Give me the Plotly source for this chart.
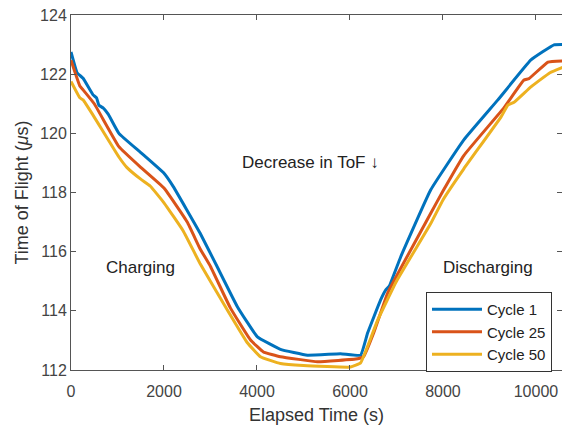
import plotly.graph_objects as go

x_c1 = [0, 130, 260, 474, 550, 600, 690, 800, 1030, 1500, 2000, 2200, 2775, 3147, 3578, 4009, 4504, 5086, 5797, 6228, 6379, 6659, 6767, 6850, 7090, 7737, 8448, 9181, 9892, 10388, 10600]
y_c1 = [122.75, 122.05, 121.86, 121.3, 121.2, 120.95, 120.86, 120.65, 120.0, 119.35, 118.65, 118.2, 116.63, 115.48, 114.14, 113.12, 112.7, 112.5, 112.55, 112.5, 113.25, 114.37, 114.7, 114.85, 115.82, 118.09, 119.78, 121.13, 122.48, 122.99, 123.0]

x_c25 = [0, 190, 260, 500, 1030, 1500, 2000, 2500, 2775, 3000, 3427, 3858, 4138, 4504, 5302, 6164, 6293, 6509, 6810, 7200, 7737, 8000, 8448, 9310, 9741, 9850, 10259, 10600]
y_c25 = [122.47, 121.6, 121.47, 121.0, 119.55, 118.85, 118.15, 117.0, 116.1, 115.5, 114.1, 113.02, 112.61, 112.45, 112.28, 112.38, 112.45, 113.25, 114.6, 115.75, 117.3, 118.05, 119.25, 120.86, 121.8, 121.85, 122.41, 122.45]

x_c50 = [0, 190, 260, 480, 1030, 1200, 1500, 1703, 2000, 2414, 2775, 3362, 3793, 4073, 4504, 5000, 6013, 6228, 6379, 6600, 7000, 7737, 8000, 8448, 9246, 9400, 9530, 9892, 10300, 10600]
y_c50 = [121.75, 121.2, 121.13, 120.6, 119.2, 118.85, 118.45, 118.22, 117.65, 116.7, 115.6, 114.03, 112.92, 112.45, 112.22, 112.15, 112.1, 112.24, 112.8, 113.7, 115.0, 116.95, 117.75, 118.8, 120.55, 120.96, 121.05, 121.57, 122.05, 122.25]

x_ticks = [0, 2000, 4000, 6000, 8000, 10000]
x_ticklabels = ["0", "2000", "4000", "6000", "8000", "10000"]
y_ticks = [112, 114, 116, 118, 120, 122, 124]

series = [
    ("Cycle 1", x_c1, y_c1, "#0072BD"),
    ("Cycle 25", x_c25, y_c25, "#D95319"),
    ("Cycle 50", x_c50, y_c50, "#EDB120"),
]

fig = go.Figure()
for name, xs, ys, col in series:
    fig.add_trace(go.Scatter(x=xs, y=ys, mode="lines", name=name,
                             line=dict(color=col, width=3, shape="spline", smoothing=0.3)))

font = "Liberation Sans, Arial, sans-serif"
fig.add_annotation(x=5150, y=119.03, text="Decrease in ToF ↓", showarrow=False,
                   font=dict(family=font, size=17, color="#222"))
fig.add_annotation(x=1490, y=115.45, text="Charging", showarrow=False,
                   font=dict(family=font, size=17, color="#222"))
fig.add_annotation(x=8960, y=115.45, text="Discharging", showarrow=False,
                   font=dict(family=font, size=17, color="#222"))

axis_common = dict(showgrid=False, zeroline=False, showline=True, linecolor="#555",
                   linewidth=1, mirror="ticks", ticks="inside", ticklen=5, tickcolor="#555",
                   tickfont=dict(family=font, size=16, color="#444"))

fig.update_layout(
    width=562, height=426,
    margin=dict(l=71, r=0, t=15, b=56),
    plot_bgcolor="white", paper_bgcolor="white",
    font=dict(family=font),
    xaxis=dict(range=[0, 10560], tickvals=x_ticks, ticktext=x_ticklabels, ticklabelstandoff=7,
               title=dict(text="Elapsed Time (s)", font=dict(family=font, size=18, color="#333"), standoff=9),
               **axis_common),
    yaxis=dict(range=[112, 124], tickvals=y_ticks,
               title=dict(text="Time of Flight (<i>μ</i>s)", font=dict(family=font, size=18, color="#333"), standoff=6),
               **axis_common),
    legend=dict(x=0.723, y=0.22, xanchor="left", yanchor="top",
                bgcolor="white", bordercolor="#333", borderwidth=1,
                font=dict(family=font, size=15, color="#222"),
                tracegroupgap=0, itemwidth=50),
    showlegend=True,
)

fig.write_html("out.html")
